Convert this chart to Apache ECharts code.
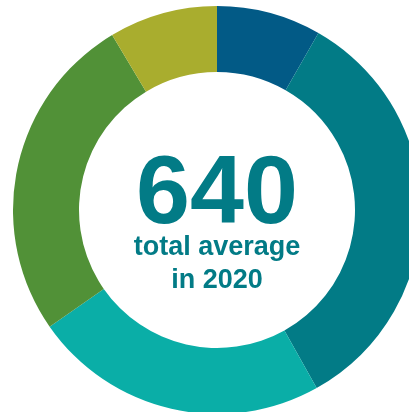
<!DOCTYPE html>
<html>
<head>
<meta charset="utf-8">
<script src="https://cdn.jsdelivr.net/npm/echarts@6/dist/echarts.min.js"></script>
<style>
html,body{margin:0;padding:0;background:#fff;}
#chart{width:409px;height:412px;}
</style>
</head>
<body>
<div id="chart"></div>
<script>
// Segments clockwise from 12 o'clock
const categories = ['Segment 1', 'Segment 2', 'Segment 3', 'Segment 4', 'Segment 5'];
const values = [53, 215, 150, 167, 55];
const colors = ['#025a86', '#027b86', '#0aaea7', '#519137', '#a9ad2e'];
const centerTitle = '640';
const centerLines = ['total average', 'in 2020'];

const chart = echarts.init(document.getElementById('chart'), null, {renderer: 'canvas'});
const font = '"Liberation Sans", Arial, Helvetica, sans-serif';
chart.setOption({
  animation: false,
  backgroundColor: '#ffffff',
  series: [{
    type: 'pie',
    center: [217, 210],
    radius: [138, 204],
    startAngle: 90,
    clockwise: true,
    avoidLabelOverlap: false,
    label: {show: false},
    labelLine: {show: false},
    emphasis: {disabled: true},
    itemStyle: {borderWidth: 0},
    data: categories.map((c, i) => ({name: c, value: values[i], itemStyle: {color: colors[i]}}))
  }],
  graphic: [
    {type: 'text', x: 217, y: 196, style: {text: centerTitle, fill: '#027b86', font: 'bold 97px ' + font, align: 'center', verticalAlign: 'middle'}},
    {type: 'text', x: 217, y: 248, style: {text: centerLines[0], fill: '#027b86', font: 'bold 27px ' + font, align: 'center', verticalAlign: 'middle'}},
    {type: 'text', x: 217, y: 281, style: {text: centerLines[1], fill: '#027b86', font: 'bold 27px ' + font, align: 'center', verticalAlign: 'middle'}}
  ]
});
</script>
</body>
</html>
